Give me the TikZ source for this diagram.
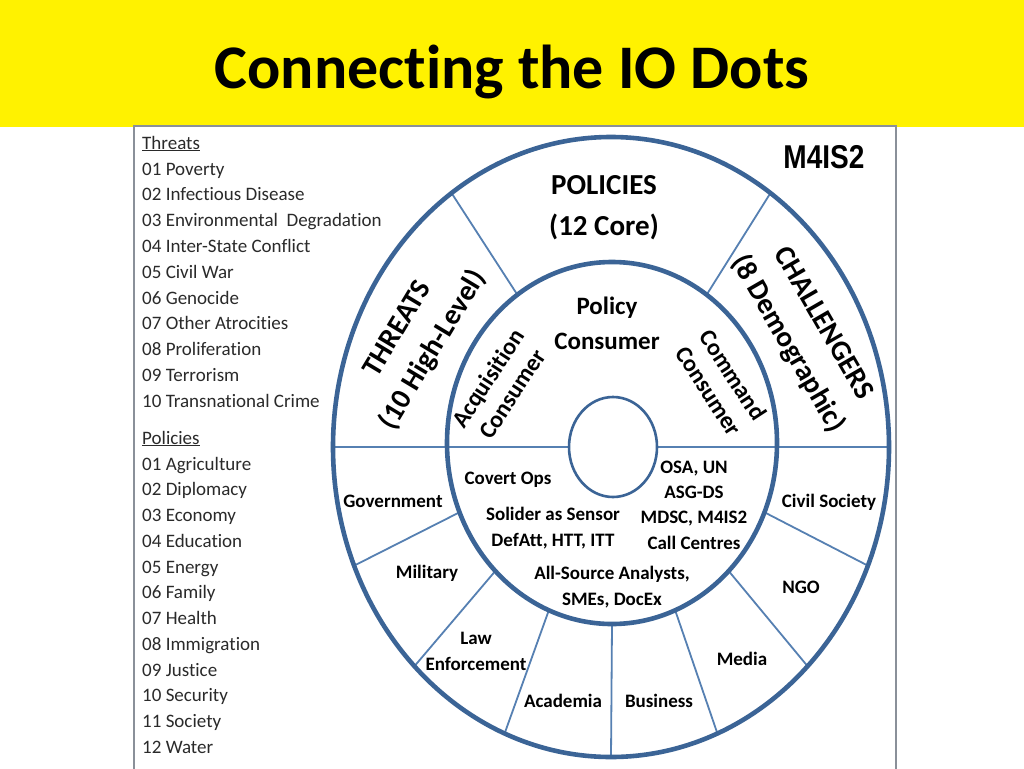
\documentclass[tikz,border=0pt]{standalone}
\usepackage{fontspec}
\setmainfont{Carlito}[Ligatures=NoCommon]
\newfontfamily\arialf{Liberation Sans}
\definecolor{ringblue}{HTML}{3B6496}
\definecolor{divblue}{HTML}{5680B2}
\definecolor{listgray}{HTML}{2A2A2A}
\definecolor{boxgray}{HTML}{8A9099}
\begin{document}
\begin{tikzpicture}[x=1pt,y=-1pt,
  ringline/.style={draw=ringblue,line width=4.6pt},
  innerring/.style={draw=ringblue,line width=2.6pt},
  divline/.style={draw=divblue,line width=1.8pt},
  lbl/.style={font=\bfseries\fontsize{19}{26}\selectfont,align=center,inner sep=0pt},
  biglbl/.style={font=\bfseries\fontsize{29}{41}\selectfont,align=center,inner sep=0pt},
  midlbl/.style={font=\bfseries\fontsize{24}{29}\selectfont,align=center,inner sep=0pt},
  listtxt/.style={font=\fontsize{19}{20}\selectfont,anchor=base west,inner sep=0pt,text=listgray}]
\useasboundingbox (0,0) rectangle (1024,768);
\fill[white] (0,0) rectangle (1024,768);
% header
\fill[yellow] (0,0) rectangle (1024,127);
\node[font=\bfseries\fontsize{62}{62}\selectfont,anchor=base,inner sep=0pt] (title) at (512,88) {Connecting the IO Dots};
% picture box
\draw[boxgray,line width=1.2pt,fill=white] (134,126) rectangle (896,770);
% left list
\node[listtxt] (th) at (142,149) {\underline{Threats}};
\foreach \t [count=\i from 0] in {01 Poverty,02 Infectious Disease,03 Environmental\ \ Degradation,04 Inter-State Conflict,05 Civil War,06 Genocide,07 Other Atrocities,08 Proliferation,09 Terrorism,10 Transnational Crime}
  \node[listtxt] (t\i) at (142,{175+25.8*\i}) {\t};
\node[listtxt] (po) at (142,444) {\underline{Policies}};
\foreach \t [count=\i from 0] in {01 Agriculture,02 Diplomacy,03 Economy,04 Education,05 Energy,06 Family,07 Health,08 Immigration,09 Justice,10 Security,11 Society,12 Water}
  \node[listtxt] (p\i) at (142,{470+25.75*\i}) {\t};
% dividers
\draw[divline] (333,447) -- (569,447);
\draw[divline] (657,447) -- (889,447);
\foreach \a in {55,125,202.5,225,247.5,270,292.5,315,337.5}
  \draw[divline] ({612+165*cos(\a)},{443-181*sin(\a)}) -- ({611+278*cos(\a)},{447-310*sin(\a)});
% rings
\draw[ringline] (611,447) ellipse [x radius=278pt, y radius=310pt];
\draw[ringline] (612,443) ellipse [x radius=165pt, y radius=181pt];
\draw[innerring] (613,447) ellipse [x radius=44pt, y radius=50pt];
% labels
\node[inner sep=0pt,xscale=0.85] (m4) at (824,157) {\arialf\bfseries\fontsize{33}{33}\selectfont M4IS2};
\node[biglbl] (pol) at (604,208) {POLICIES\\(12 Core)};
\node[biglbl,rotate=59] (thr) at (416,340) {THREATS\\(10 High-Level)};
\node[biglbl,rotate=-60] (cha) at (805,334) {CHALLENGERS\\(8 Demographic)};
\node[midlbl,font=\bfseries\fontsize{25}{35}\selectfont] (pc) at (607,323) {Policy\\Consumer};
\node[midlbl,rotate=57] (ac) at (500,386) {Acquisition\\Consumer};
\node[midlbl,rotate=-57] (cc) at (721,383) {Command\\Consumer};
\node[lbl] (co) at (508,480) {Covert Ops};
\node[lbl] (ss) at (553,528) {Solider as Sensor\\DefAtt, HTT, ITT};
\node[lbl,font=\bfseries\fontsize{19}{25.3}\selectfont] (osa) at (694,505) {OSA, UN\\ASG-DS\\MDSC, M4IS2\\Call Centres};
\node[lbl] (all) at (612,587) {All-Source Analysts,\\SMEs, DocEx};
\node[lbl] (gov) at (393,501) {Government};
\node[lbl] (mil) at (427,573) {Military};
\node[lbl] (law) at (476,651) {Law\\Enforcement};
\node[lbl] (aca) at (563,701) {Academia};
\node[lbl] (bus) at (659,701) {Business};
\node[lbl] (med) at (742,659) {Media};
\node[lbl] (ngo) at (801,587) {NGO};
\node[lbl] (civ) at (829,502) {Civil Society};
\end{tikzpicture}
\end{document}
